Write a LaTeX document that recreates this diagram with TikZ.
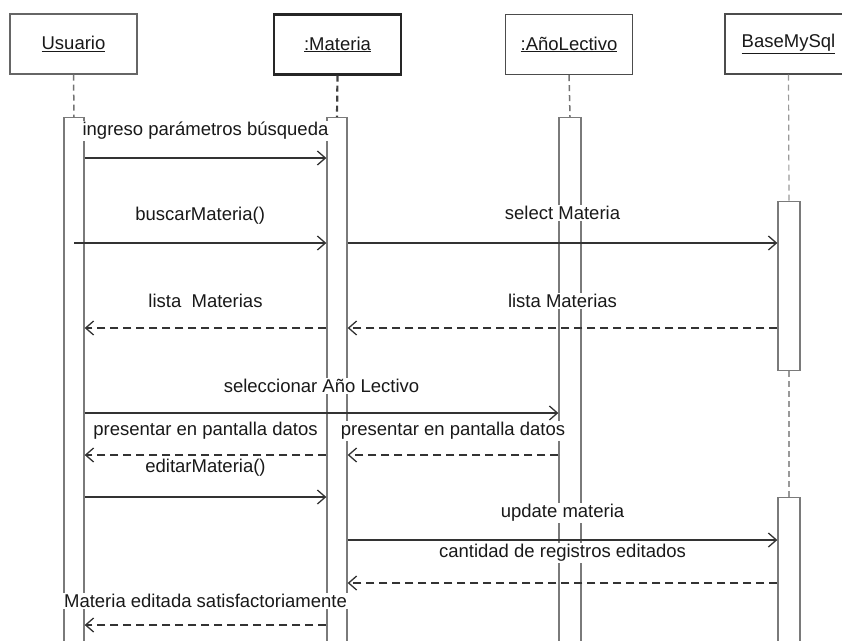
\documentclass[tikz,border=0pt]{standalone}
\usepackage{fontspec}
\setmainfont{Liberation Sans}
\usetikzlibrary{arrows.meta}
\begin{document}
\begin{tikzpicture}[x=1pt,y=-1pt,
  font=\fontsize{18.5}{21}\selectfont,
  head/.style={draw=black!60, line width=1.4pt, fill=white, minimum width=127pt,
    minimum height=60pt, inner sep=0pt, text=black!90},
  act/.style={draw=black!52, line width=1.3pt, fill=white, minimum width=20pt,
    inner sep=0pt, anchor=north},
  life/.style={draw=black!55, line width=1.5pt, dash pattern=on 6pt off 4pt},
  msg/.style={draw=black!80, line width=1.3pt,
    -{Straight Barb[length=8pt,width=14pt,line width=1.3pt]}},
  ret/.style={msg, dash pattern=on 8pt off 5pt},
  lbl/.style={fill=white, inner sep=1.5pt, text=black!90, yshift=27pt}]
\useasboundingbox (0,0) rectangle (842,640);

% object heads
\node[head] (usr) at (73.5,44) {\underline{Usuario}};
\node[head, draw=black!85, line width=2.2pt] (mat) at (337.5,44.5) {\underline{:Materia}};
\node[head, draw=black!70] (ano) at (569,44.5) {\underline{:AñoLectivo}};
\node[head, draw=black!70] (bd) at (788.5,44) {\underline{BaseMySql}};

% activation bars
\node[act, minimum height=540pt] (usrA) at (74,117) {};
\node[act, minimum height=540pt] (matA) at (337,117) {};
\node[act, minimum height=540pt, minimum width=22pt] (anoA) at (570,117) {};
\node[act, minimum height=169pt, minimum width=22pt] (bdA) at (789,201) {};
\node[act, minimum height=160pt, minimum width=22pt] (bdB) at (789,497) {};

% lifelines
\draw[life] (usr.south) -- (usrA.north);
\draw[life, draw=black!75, line width=2.2pt] (mat.south) -- (matA.north);
\draw[life] (ano.south) -- (anoA.north);
\draw[life, draw=black!40, line width=1.2pt] (bd.south) -- (bdA.north);
\draw[life, draw=black!40, line width=1.2pt] (bdA.south) -- (bdB.north);

% message rows
\coordinate (r1) at (0,158);
\coordinate (r2) at (0,243);
\coordinate (r3) at (0,328);
\coordinate (r4) at (0,413);
\coordinate (r5) at (0,455);
\coordinate (r6) at (0,497);
\coordinate (r7) at (0,540);
\coordinate (r8) at (0,583);
\coordinate (r9) at (0,625);

% messages
\draw[msg] (usrA.east |- r1) -- node[lbl] {ingreso parámetros búsqueda} (matA.west |- r1);
\draw[msg] (usrA |- r2) -- node[lbl] {buscarMateria()} (matA.west |- r2);
\draw[msg] (matA.east |- r2) -- node[lbl, yshift=3pt] {select Materia} (bdA.west |- r2);
\draw[ret] (bdA.west |- r3) -- node[lbl] {lista Materias} (matA.east |- r3);
\draw[ret] (matA.west |- r3) -- node[lbl] {lista\ \ Materias} (usrA.east |- r3);
\draw[msg] (usrA.east |- r4) -- node[lbl] {seleccionar Año Lectivo} (anoA.west |- r4);
\draw[ret] (matA.west |- r5) -- node[lbl, yshift=-3pt] {presentar en pantalla datos} (usrA.east |- r5);
\draw[ret] (anoA.west |- r5) -- node[lbl, yshift=-3pt] {presentar en pantalla datos} (matA.east |- r5);
\draw[msg] (usrA.east |- r6) -- node[lbl, yshift=2pt] {editarMateria()} (matA.west |- r6);
\draw[msg] (matA.east |- r7) -- node[lbl] {update materia} (bdB.west |- r7);
\draw[ret] (bdB.west |- r8) -- node[lbl, yshift=3pt] {cantidad de registros editados} (matA.east |- r8);
\draw[ret] (matA.west |- r9) -- node[lbl, yshift=-3pt] {Materia editada satisfactoriamente} (usrA.east |- r9);
\end{tikzpicture}
\end{document}
